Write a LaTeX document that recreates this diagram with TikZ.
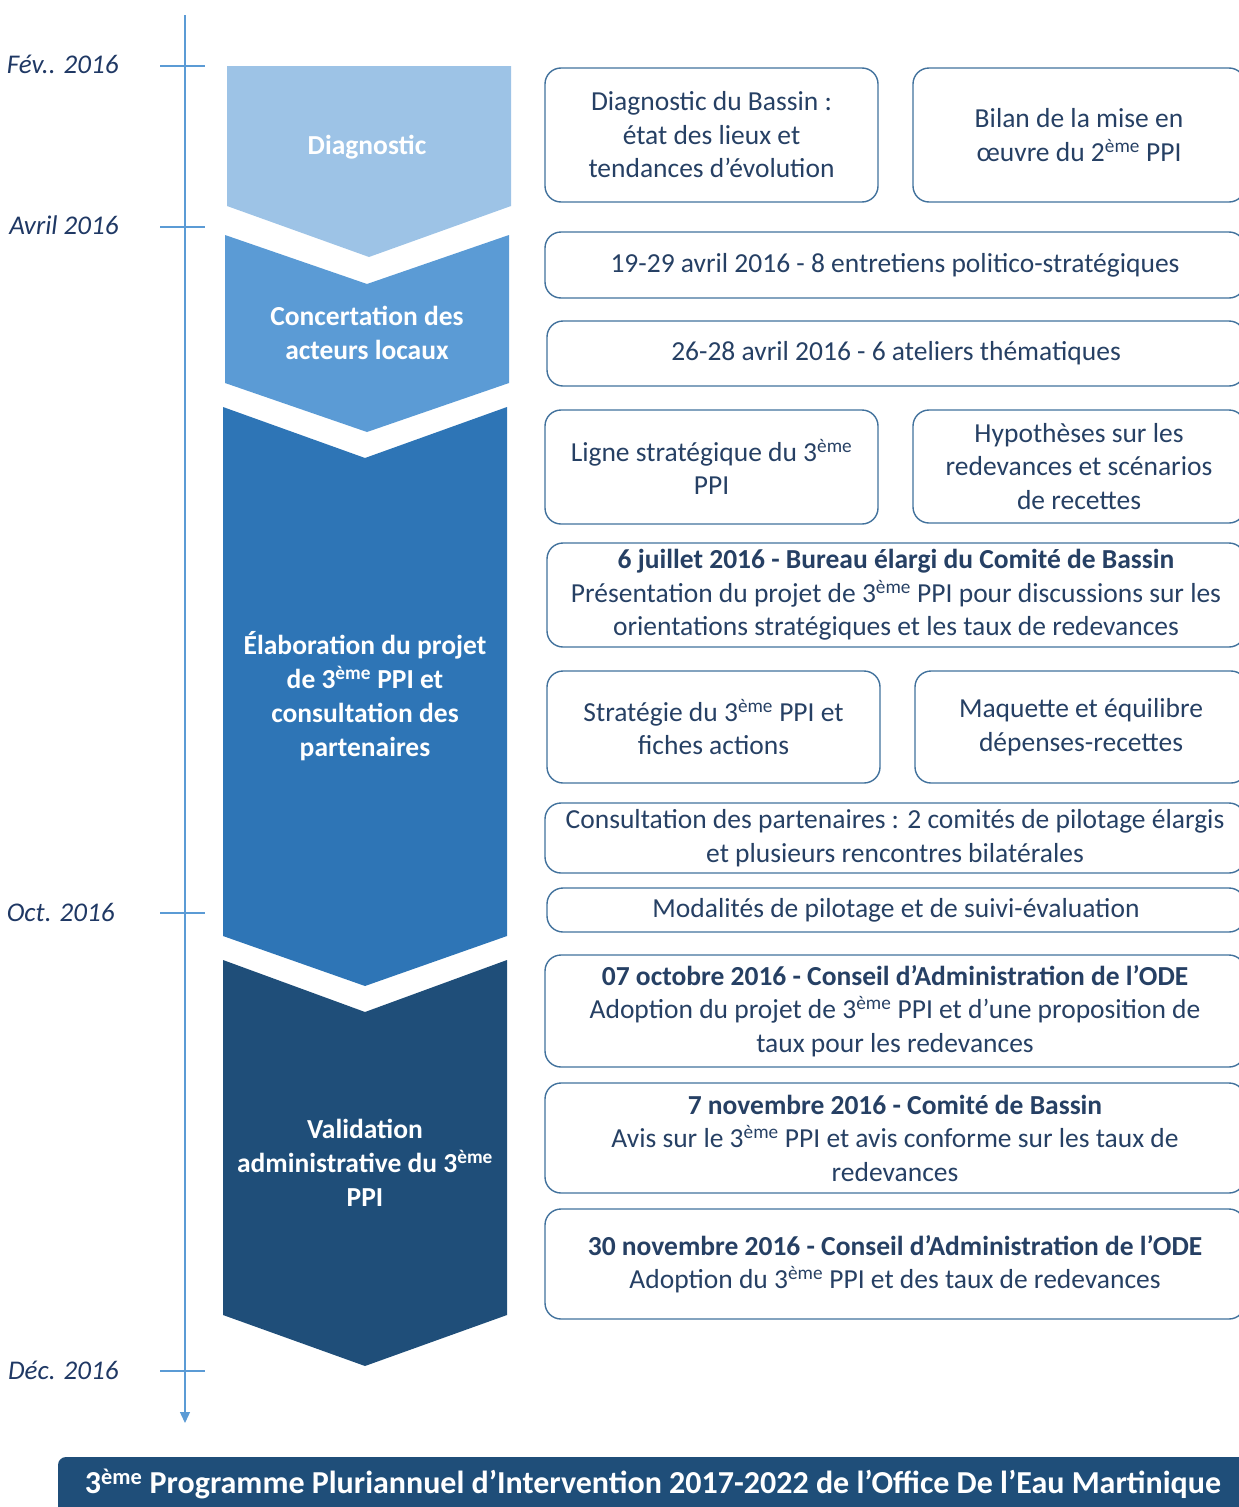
\documentclass[tikz,border=0pt]{standalone}
\usepackage{fontspec}
\setmainfont{Carlito}
\usetikzlibrary{arrows.meta}
\definecolor{chevA}{RGB}{157,195,230}
\definecolor{chevB}{RGB}{91,155,213}
\definecolor{chevC}{RGB}{46,117,182}
\definecolor{chevD}{RGB}{31,78,121}
\definecolor{boxline}{RGB}{65,113,156}
\definecolor{boxtext}{RGB}{38,64,100}
\definecolor{datetext}{RGB}{31,56,100}
\definecolor{axis}{RGB}{91,155,213}
\newcommand{\eme}{\textsuperscript{ème}}
\begin{document}
\begin{tikzpicture}[x=1pt,y=-1pt,
        box/.style={draw=boxline,line width=1.4pt,rounded corners=16pt,
            text=boxtext,align=center,inner sep=0pt,
            font=\fontsize{27.5}{33.5}\selectfont},
        phase/.style={text=white,align=center,
            font=\bfseries\fontsize{27.5}{34}\selectfont},
        date/.style={anchor=east,text=datetext,
            font=\itshape\fontsize{27}{30}\selectfont},
        tick/.style={draw=axis,line width=1.3pt}]
\useasboundingbox (0,0) rectangle (1239,1507);

\fill[chevA] (227,66) -- (511,66) -- (511,206) -- (369,257) -- (227,206) -- cycle;
\fill[chevB] (225,235) -- (367,284) -- (509,235) -- (509,383) -- (367,432) -- (225,383) -- cycle;
\fill[chevC] (223,407) -- (365,458) -- (507,407) -- (507,936) -- (365,986) -- (223,936) -- cycle;
\fill[chevD] (223,960) -- (365,1012) -- (507,960) -- (507,1315) -- (365,1366) -- (223,1315) -- cycle;

\node[phase] (diagnostic) at (367,147) {Diagnostic};
\node[phase] (concertation) at (367,333) {Concertation des\\acteurs locaux};
\node[phase] (elaboration) at (365,696) {Élaboration du projet\\de 3\eme{} PPI et\\consultation des\\partenaires};
\node[phase] (validation) at (365,1163) {Validation\\administrative du 3\eme\\PPI};

\coordinate (axetop) at (185,15);
\coordinate (axeend) at (185,1423);
\draw[tick,-{Triangle[width=10pt,length=11pt]}] (axetop) -- (axeend);
\draw[tick] (160,66) -- (205,66);
\draw[tick] (160,227) -- (205,227);
\draw[tick] (160,913) -- (205,913);
\draw[tick] (160,1371) -- (205,1371);
\node[date] (fev) at (122,64) {Fév.. 2016};
\node[date] (avril) at (122,225) {Avril 2016};
\node[date] (oct) at (118,912) {Oct. 2016};
\node[date] (dec) at (122,1370) {Déc. 2016};

\node[box,minimum width=333pt,minimum height=134pt] (bassin) at (711.5,135)
    {Diagnostic du Bassin :\\état des lieux et\\tendances d’évolution};
\node[box,minimum width=332pt,minimum height=134pt] (bilan) at (1079,135)
    {Bilan de la mise en\\œuvre du 2\eme{} PPI};
\node[box,minimum width=700pt,minimum height=66pt] (entretiens) at (895,265)
    {19-29 avril 2016 - 8 entretiens politico-stratégiques};
\node[box,minimum width=698pt,minimum height=65pt] (ateliers) at (896,353.5)
    {26-28 avril 2016 - 6 ateliers thématiques};
\node[box,minimum width=333pt,minimum height=114pt] (ligne) at (711.5,467)
    {Ligne stratégique du 3\eme\\PPI};
\node[box,minimum width=332pt,minimum height=113pt] (hypotheses) at (1079,466.5)
    {Hypothèses sur les\\redevances et scénarios\\de recettes};
\node[box,minimum width=698pt,minimum height=104pt] (bureau) at (896,595)
    {\textbf{6 juillet 2016 - Bureau élargi du Comité de Bassin}\\Présentation du projet de 3\eme{} PPI pour discussions sur les\\orientations stratégiques et les taux de redevances};
\node[box,minimum width=333pt,minimum height=112pt] (strategie) at (713.5,727)
    {Stratégie du 3\eme{} PPI et\\fiches actions};
\node[box,minimum width=332pt,minimum height=112pt] (maquette) at (1081,727)
    {Maquette et équilibre\\dépenses-recettes};
\node[box,minimum width=700pt,minimum height=70pt] (consultation) at (895,838)
    {Consultation des partenaires : 2 comités de pilotage élargis\\et plusieurs rencontres bilatérales};
\node[box,minimum width=698pt,minimum height=44pt] (modalites) at (896,910)
    {Modalités de pilotage et de suivi-évaluation};
\node[box,minimum width=700pt,minimum height=112pt] (octobre) at (895,1011)
    {\textbf{07 octobre 2016 - Conseil d’Administration de l’ODE}\\Adoption du projet de 3\eme{} PPI et d’une proposition de\\taux pour les redevances};
\node[box,minimum width=700pt,minimum height=110pt] (comite) at (895,1138)
    {\textbf{7 novembre 2016 - Comité de Bassin}\\Avis sur le 3\eme{} PPI et avis conforme sur les taux de\\redevances};
\node[box,minimum width=700pt,minimum height=110pt] (conseil) at (895,1264)
    {\textbf{30 novembre 2016 - Conseil d’Administration de l’ODE}\\Adoption du 3\eme{} PPI et des taux de redevances};

\fill[chevD,rounded corners=8pt] (58,1457) rectangle (1260,1540);
\node[text=white,font=\bfseries\fontsize{32}{34}\selectfont] (titre) at (653,1484)
    {3\eme{} Programme Pluriannuel d’Intervention 2017-2022 de l’Office De l’Eau Martinique};
\end{tikzpicture}
\end{document}
